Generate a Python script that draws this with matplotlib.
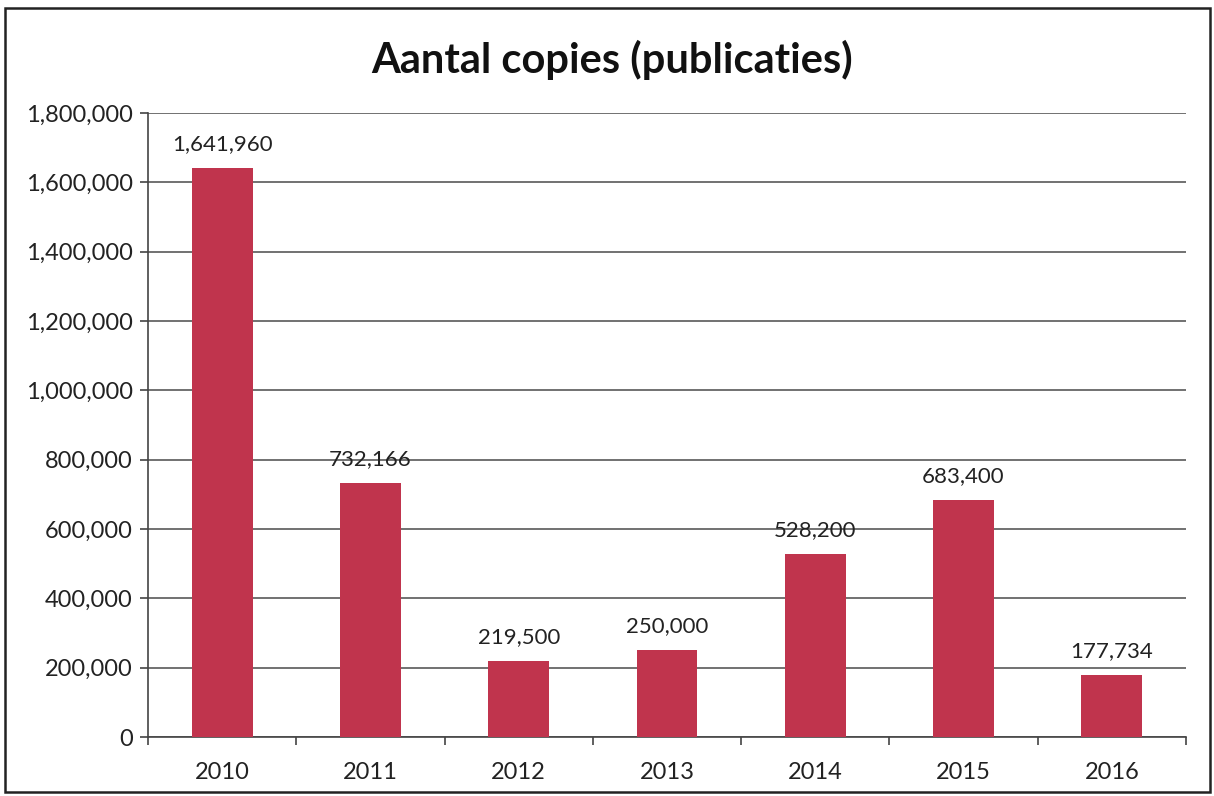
import matplotlib.pyplot as plt
from matplotlib.patches import Rectangle
from matplotlib.ticker import FuncFormatter, FixedLocator
import numpy as np

years = ["2010", "2011", "2012", "2013", "2014", "2015", "2016"]
copies = [1641960, 732166, 219500, 250000, 528200, 683400, 177734]

plt.rcParams['font.family'] = ['Lato', 'DejaVu Sans']

fig = plt.figure(figsize=(12.14, 7.96), dpi=100)
ax = fig.add_axes([0.1219, 0.0741, 0.855, 0.784])

x = np.arange(len(years))
bars = ax.bar(x, copies, width=0.41, color="#C0344D", zorder=3)

for b, v in zip(bars, copies):
    ax.annotate(f"{v:,}", (b.get_x() + b.get_width() / 2, v),
                xytext=(0, 10), textcoords="offset points",
                ha="center", va="bottom", fontsize=16, color="#222222")

ax.set_xlim(-0.5, len(years) - 0.5)
ax.set_ylim(0, 1800000)
ax.set_yticks(np.arange(0, 1800001, 200000))
ax.yaxis.set_major_formatter(FuncFormatter(lambda v, p: f"{int(v):,}"))
ax.set_xticks(x)
ax.set_xticklabels(years)
ax.xaxis.set_minor_locator(FixedLocator(np.arange(-0.5, len(years), 1.0)))
ax.tick_params(axis="x", which="major", length=0, labelsize=17, pad=18, labelcolor="#222222")
ax.tick_params(axis="x", which="minor", length=6, width=1.2, color="#444444", direction="out")
ax.tick_params(axis="y", length=6, width=1.2, color="#444444", labelsize=17, pad=5, labelcolor="#222222")

ax.grid(axis="y", color="#4a4a4a", linewidth=1.1, zorder=0)
for s in ["top", "right"]:
    ax.spines[s].set_visible(False)
ax.spines["left"].set_color("#444444")
ax.spines["bottom"].set_color("#444444")
ax.spines["left"].set_linewidth(1.2)
ax.spines["bottom"].set_linewidth(1.2)

fig.text(0.504, 0.925, "Aantal copies (publicaties)", ha="center", va="center",
         fontsize=30, fontweight="bold", color="#111111")

fig.patches.append(Rectangle((0.004, 0.005), 0.993, 0.985, transform=fig.transFigure,
                             fill=False, edgecolor="#222222", linewidth=1.8))

fig.savefig("out.png", dpi=100)
